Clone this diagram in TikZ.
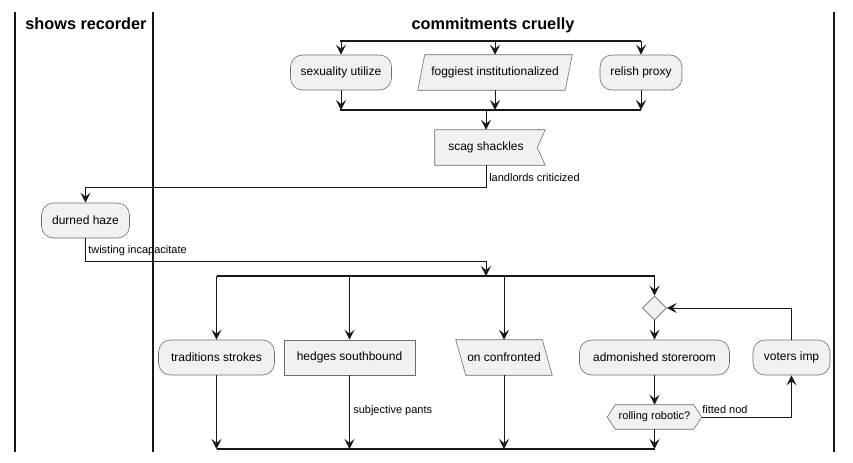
\documentclass[tikz,border=0pt]{standalone}
\usepackage{fontspec}
\setmainfont{Liberation Sans}
\usetikzlibrary{arrows.meta,shapes.geometric,backgrounds,calc}
\definecolor{nfill}{HTML}{F1F1F1}
\definecolor{ink}{HTML}{181818}
\definecolor{edge}{HTML}{6E6E6E}
\tikzset{
 base/.style={minimum height=35*0.75pt, inner sep=0pt, font=\fontsize{9}{11}\selectfont, text=black},
 wd/.style={minimum width=#1*0.75pt},
 act/.style={base, draw=edge, line width=0.45pt, fill=nfill, rounded corners=9pt},
 box/.style={base, draw=edge, line width=0.45pt, fill=nfill},
 ghost/.style={base},
 shapeline/.style={draw=edge, line width=0.45pt, fill=nfill},
 flow/.style={draw=ink, line width=0.75pt, -{Stealth[length=7.5pt,width=7.5pt,inset=3pt]}},
 bar/.style={draw=ink, line width=1.6pt},
 lane/.style={draw=ink, line width=1.1pt},
 lbl/.style={font=\fontsize{8.25}{10}\selectfont, anchor=west, inner sep=0pt},
 head/.style={font=\bfseries\fontsize{12.2}{14}\selectfont, inner sep=0pt, anchor=base},
}
\begin{document}
\begin{tikzpicture}[x=0.75pt,y=-0.75pt]
\useasboundingbox (0,0) rectangle (853,462);
% lanes
\draw[lane] (15,12) -- (15,452);
\draw[lane] (153,12) -- (153,452);
\draw[lane] (834,12) -- (834,452);
\node[head] (h1) at (86,29.5) {shows recorder};
\node[head] (h2) at (493,29.5) {commitments cruelly};
% top row
\node[act, wd=101] (su) at (341,72.5) {sexuality utilize};
\node[ghost, wd=154] (fo) at (495,72.5) {foggiest institutionalized};
\node[act, wd=82] (rp) at (641,72.5) {relish proxy};
\node[ghost, wd=110] (sc) at (490,147.5) {\hspace*{-6pt}scag shackles};
\node[act, wd=88] (dh) at (85.5,220.5) {durned haze};
% second row
\node[act, wd=116] (ts) at (216.5,357.5) {traditions strokes};
\node[box, wd=131] (hs) at (349.5,357.5) {hedges southbound};
\node[ghost, wd=96] (oc) at (504,357.5) {on confronted};
\node[diamond, draw=edge, fill=nfill, line width=0.45pt, inner sep=0pt, minimum width=24*0.75pt, minimum height=24*0.75pt] (dm) at (654.5,308) {};
\node[act, wd=150] (ad) at (654.5,357.5) {admonished storeroom};
\node[act, wd=77] (vi) at (791.5,357.5) {voters imp};
\node[ghost, wd=94, minimum height=24*0.75pt, font=\fontsize{8.25}{10}\selectfont] (hx) at (654.5,417) {rolling robotic?};
\begin{pgfonlayer}{background}
\path[shapeline] ($(fo.north west)+(7,0)$) -- (fo.north east) -- ($(fo.south east)+(-7,0)$) -- (fo.south west) -- cycle;
\path[shapeline] (sc.north west) -- (sc.north east) -- ($(sc.east)+(-8,0)$) -- (sc.south east) -- (sc.south west) -- cycle;
\path[shapeline] (oc.north west) -- ($(oc.north east)+(-10,0)$) -- (oc.south east) -- ($(oc.south west)+(10,0)$) -- cycle;
\path[shapeline] (hx.west) -- ($(hx.north west)+(8,0)$) -- ($(hx.north east)+(-8,0)$) -- (hx.east) -- ($(hx.south east)+(-8,0)$) -- ($(hx.south west)+(8,0)$) -- cycle;
\end{pgfonlayer}
% fork 1
\coordinate (f1a) at (340,41);
\coordinate (f1b) at (641,41);
\draw[bar] (f1a) -- (f1b);
\draw[flow] (su.north |- f1a) -- (su.north);
\draw[flow] (fo.north |- f1a) -- (fo.north);
\draw[flow] (rp.north |- f1a) -- (rp.north);
% join 1
\coordinate (j1a) at (340,110);
\coordinate (j1b) at (641,110);
\coordinate (j1m) at (486,110);
\draw[bar] (j1a) -- (j1b);
\draw[flow] (su.south) -- (su.south |- j1a);
\draw[flow] (fo.south) -- (fo.south |- j1a);
\draw[flow] (rp.south) -- (rp.south |- j1a);
\draw[flow] (j1m) -- (j1m |- sc.north);
% to durned haze
\coordinate (k1) at (486,187);
\draw[flow] (j1m |- sc.south) -- (k1) -| (dh.north);
\node[lbl] (l1) at (489,178) {landlords criticized};
% to fork 2
\coordinate (f2a) at (216.5,276);
\coordinate (f2b) at (655,276);
\coordinate (f2m) at (486,276);
\draw[flow] (dh.south) |- ($(f2m)+(0,-15)$) -- (f2m);
\node[lbl] (l2) at (88,251) {twisting incapacitate};
\draw[bar] (f2a) -- (f2b);
\draw[flow] (ts.north |- f2a) -- (ts.north);
\draw[flow] (hs.north |- f2a) -- (hs.north);
\draw[flow] (oc.north |- f2a) -- (oc.north);
\draw[flow] (dm.north |- f2a) -- (dm.north);
% join 2
\coordinate (j2a) at (216.5,449);
\coordinate (j2b) at (655,449);
\draw[bar] (j2a) -- (j2b);
\draw[flow] (ts.south) -- (ts.south |- j2a);
\draw[flow] (hs.south) -- (hs.south |- j2a);
\node[lbl] (l3) at (353,411) {subjective pants};
\draw[flow] (oc.south) -- (oc.south |- j2a);
\draw[flow] (hx.south) -- (hx.south |- j2a);
% loop
\draw[flow] (dm.south) -- (ad.north);
\draw[flow] (ad.south) -- (hx.north);
\draw[flow] (hx.east) -| (vi.south);
\node[lbl] (l4) at (702,410) {fitted nod};
\draw[flow] (vi.north) |- (dm.east);
\end{tikzpicture}
\end{document}
